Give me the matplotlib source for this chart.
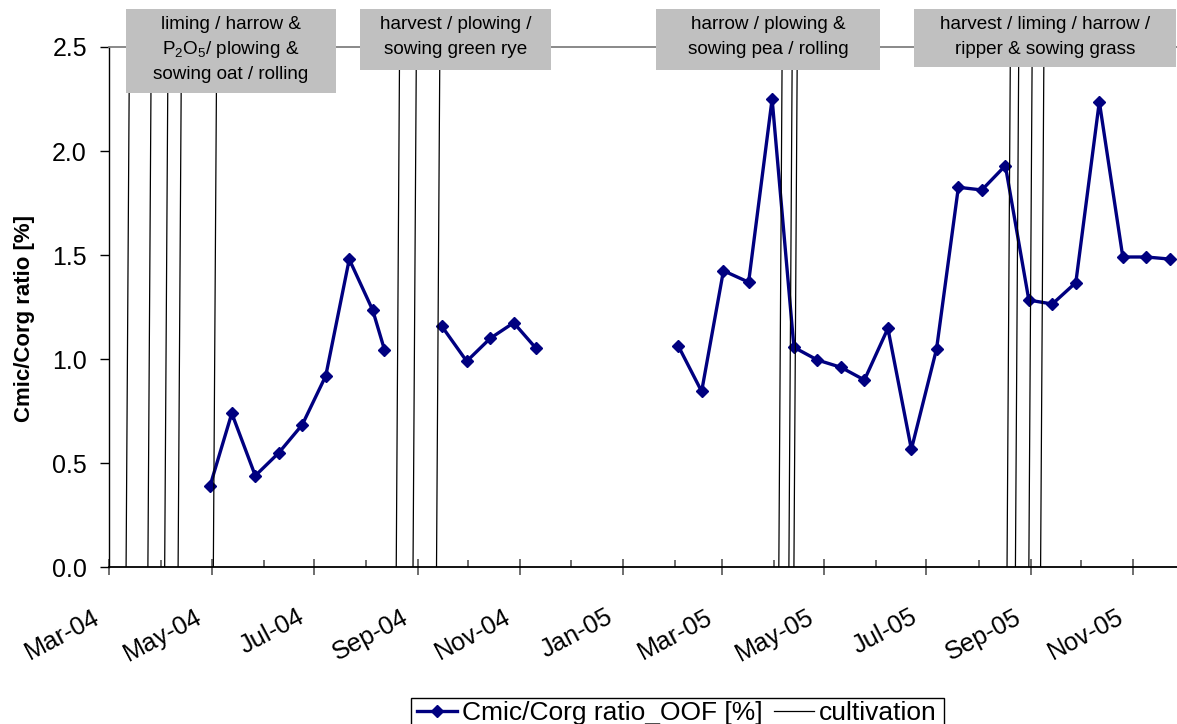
import matplotlib
matplotlib.use('Agg')
import matplotlib.pyplot as plt
import matplotlib.dates as mdates
from matplotlib.patches import Rectangle
from matplotlib.transforms import ScaledTranslation
from matplotlib.ticker import FormatStrFormatter
import numpy as np

plt.rcParams['font.family'] = ['Liberation Sans', 'DejaVu Sans']
plt.rcParams['mathtext.fontset'] = 'custom'
plt.rcParams['mathtext.rm'] = 'Liberation Sans'
plt.rcParams['mathtext.it'] = 'Liberation Sans:italic'
plt.rcParams['mathtext.bf'] = 'Liberation Sans:bold'

# ---------------- data ----------------
dates_2004_spring = ['2004-04-30', '2004-05-13', '2004-05-27', '2004-06-10', '2004-06-24',
                     '2004-07-08', '2004-07-22', '2004-08-05', '2004-08-12']
ratio_2004_spring = [0.39, 0.74, 0.44, 0.55, 0.685, 0.92, 1.48, 1.235, 1.045]

dates_2004_autumn = ['2004-09-15', '2004-09-30', '2004-10-14', '2004-10-28', '2004-11-10']
ratio_2004_autumn = [1.16, 0.99, 1.10, 1.175, 1.055]

dates_2005 = ['2005-02-03', '2005-02-17', '2005-03-02', '2005-03-17', '2005-03-31',
              '2005-04-13', '2005-04-27', '2005-05-11', '2005-05-25', '2005-06-08',
              '2005-06-22', '2005-07-07', '2005-07-20', '2005-08-03', '2005-08-17',
              '2005-08-31', '2005-09-14', '2005-09-28', '2005-10-12', '2005-10-26',
              '2005-11-09', '2005-11-23']
ratio_2005 = [1.065, 0.845, 1.425, 1.37, 2.25,
              1.057, 0.996, 0.961, 0.90, 1.148,
              0.567, 1.049, 1.826, 1.813, 1.93,
              1.284, 1.265, 1.368, 2.237, 1.491,
              1.491, 1.481]

cultivation_dates = ['2004-03-11', '2004-03-24', '2004-04-03', '2004-04-11', '2004-05-02',
                     '2004-08-19', '2004-08-29', '2004-09-12',
                     '2005-04-04', '2005-04-10', '2005-04-13',
                     '2005-08-18', '2005-08-23', '2005-08-31', '2005-09-07']

event_labels = [
    ['liming / harrow &', r'P$_\mathregular{2}$O$_\mathregular{5}$/ plowing &', 'sowing oat / rolling'],
    ['harvest / plowing /', 'sowing green rye'],
    ['harrow / plowing &', 'sowing pea / rolling'],
    ['harvest / liming / harrow /', 'ripper & sowing grass'],
]

series_label = 'Cmic/Corg ratio_OOF [%]'
cultivation_label = 'cultivation'
y_label = 'Cmic/Corg ratio [%]'
y_ticks = [0.0, 0.5, 1.0, 1.5, 2.0, 2.5]

# ---------------- layout ----------------
W, H = 1177, 724
fig = plt.figure(figsize=(W / 100, H / 100), dpi=100)
px_per_day = 1.678
x_start, x_end = np.datetime64('2004-03-01'), np.datetime64('2005-12-25')
ax_left, ax_bottom, ax_top = 109.3, 567.3, 47.0
ax_right = ax_left + (x_end - x_start).astype(int) * px_per_day
ax = fig.add_axes([ax_left / W, (H - ax_bottom) / H,
                   (ax_right - ax_left) / W, (ax_bottom - ax_top) / H])

navy = '#000080'

# series with gaps between campaigns
all_dates = np.concatenate([
    np.array(dates_2004_spring, dtype='datetime64[D]'), np.array(['2004-08-30'], dtype='datetime64[D]'),
    np.array(dates_2004_autumn, dtype='datetime64[D]'), np.array(['2005-01-01'], dtype='datetime64[D]'),
    np.array(dates_2005, dtype='datetime64[D]')])
all_vals = np.concatenate([ratio_2004_spring, [np.nan], ratio_2004_autumn, [np.nan], ratio_2005])

series_line, = ax.plot(all_dates, all_vals, color=navy, lw=2.4, marker='D', markersize=6.2,
                       markerfacecolor=navy, markeredgecolor=navy, zorder=2,
                       label=series_label)

tilt = np.timedelta64(2, 'D')
cdates = np.array(cultivation_dates, dtype='datetime64[D]')
cult_line = None
for d in cdates:
    l, = ax.plot([d, d + tilt], [0, 2.5], color='black', lw=0.9, zorder=3,
                 label=cultivation_label)
    if cult_line is None:
        cult_line = l

ax.set_xlim(x_start, x_end)
ax.set_ylim(0, 2.5)

# spines
ax.spines['right'].set_visible(False)
ax.spines['top'].set_color('#808080')
ax.spines['top'].set_linewidth(1.3)
ax.spines['left'].set_color('black')
ax.spines['bottom'].set_color('black')
ax.spines['left'].set_linewidth(1.0)
ax.spines['bottom'].set_linewidth(1.3)

# y axis
ax.set_yticks(y_ticks)
ax.yaxis.set_major_formatter(FormatStrFormatter('%.1f'))
ax.tick_params(axis='y', direction='out', length=6.7, width=1, color='black',
               labelsize=18, pad=9.4)

# x axis
ax.xaxis.set_major_locator(mdates.MonthLocator(bymonth=[1, 3, 5, 7, 9, 11]))
ax.xaxis.set_minor_locator(mdates.MonthLocator(bymonth=[2, 4, 6, 8, 10, 12]))
ax.xaxis.set_major_formatter(mdates.DateFormatter('%b-%y'))
ax.tick_params(axis='x', which='major', direction='inout', length=12.2, width=1.2,
               color='#555555', labelsize=18.3, pad=21)
ax.tick_params(axis='x', which='minor', direction='in', length=4.8, width=1.2,
               color='#555555')

fig.canvas.draw()
offset = ScaledTranslation(-17 / 100, 0, fig.dpi_scale_trans)
for lbl in ax.get_xticklabels():
    lbl.set_rotation(28)
    lbl.set_ha('right')
    lbl.set_va('top')
    lbl.set_rotation_mode('anchor')
    lbl.set_transform(lbl.get_transform() + offset)

# y label
fig.text(25 / W, 1 - 319 / H, y_label, rotation=90, fontsize=16, fontweight='bold',
         ha='center', va='center')

# event boxes (pixel layout: left, right, top, bottom)
box_px = [(126, 336, 9, 93), (360, 551, 9, 70), (656, 880, 9, 70), (914, 1176, 9, 67)]
first_baseline, pitch = 28.6, 25.0
for lines, (x0, x1, y0, y1) in zip(event_labels, box_px):
    rect = Rectangle((x0 / W, 1 - y1 / H), (x1 - x0) / W, (y1 - y0) / H,
                     transform=fig.transFigure, facecolor='#c0c0c0', edgecolor='none',
                     zorder=5)
    fig.patches.append(rect)
    cx = (x0 + x1) / 2
    for i, t in enumerate(lines):
        fig.text(cx / W, 1 - (first_baseline + i * pitch) / H, t, fontsize=13.6,
                 ha='center', va='baseline', zorder=6, color='black')

# legend: manual frame + frameless legend
leg_frame = Rectangle((411 / W, 1 - 740 / H), (944 - 411) / W, (740 - 698) / H,
                      transform=fig.transFigure, facecolor='white', edgecolor='black',
                      linewidth=1.0, zorder=7)
fig.patches.append(leg_frame)
leg = fig.legend(handles=[series_line, cult_line], labels=[series_label, cultivation_label],
                 loc='upper left', bbox_to_anchor=(417 / W, 1 - 701 / H), ncol=2,
                 fontsize=19, frameon=False, borderpad=0.0, handlelength=1.52,
                 handletextpad=0.2, columnspacing=0.4, borderaxespad=0, numpoints=1)
leg.set_zorder(8)

fig.savefig('out.png', dpi=100)
